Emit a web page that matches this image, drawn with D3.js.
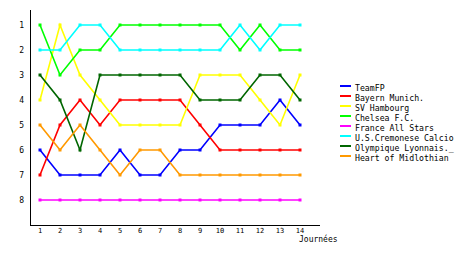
<!DOCTYPE html>
<html lang="fr">
<head>
<meta charset="UTF-8">
<title>Classement par journée</title>
<script src="https://cdn.jsdelivr.net/npm/d3@7"></script>
<style>
  html, body { margin: 0; padding: 0; background: #fff; }
  svg text { font-family: "DejaVu Sans Mono", monospace; fill: #000; }
</style>
</head>
<body>
<div id="chart"></div>
<script>
// journées 1..14 and the ranking of each team
const journees = [1, 2, 3, 4, 5, 6, 7, 8, 9, 10, 11, 12, 13, 14];
const rangs = [1, 2, 3, 4, 5, 6, 7, 8];

const equipes = ["TeamFP", "Bayern Munich.", "SV Hambourg", "Chelsea F.C.",
  "France All Stars", "U.S.Cremonese Calcio", "Olympique Lyonnais._", "Heart of Midlothian"];
const couleurs = ["#0000ff", "#ff0000", "#ffff00", "#00ff00",
  "#ff00ff", "#00ffff", "#006600", "#ff9900"];

const teamFP     = [6, 7, 7, 7, 6, 7, 7, 6, 6, 5, 5, 5, 4, 5];
const bayern     = [7, 5, 4, 5, 4, 4, 4, 4, 5, 6, 6, 6, 6, 6];
const hambourg   = [4, 1, 3, 4, 5, 5, 5, 5, 3, 3, 3, 4, 5, 3];
const chelsea    = [1, 3, 2, 2, 1, 1, 1, 1, 1, 1, 2, 1, 2, 2];
const allStars   = [8, 8, 8, 8, 8, 8, 8, 8, 8, 8, 8, 8, 8, 8];
const cremonese  = [2, 2, 1, 1, 2, 2, 2, 2, 2, 2, 1, 2, 1, 1];
const lyon       = [3, 4, 6, 3, 3, 3, 3, 3, 4, 4, 4, 3, 3, 4];
const midlothian = [5, 6, 5, 6, 7, 6, 6, 7, 7, 7, 7, 7, 7, 7];

const series = [teamFP, bayern, hambourg, chelsea, allStars, cremonese, lyon, midlothian];

const width = 460, height = 255;

const svg = d3.select('#chart').append('svg')
    .attr('width', width)
    .attr('height', height);

// scales: rank 1 on top
const x = d3.scaleLinear().domain([0.5, 15]).range([30, 320]);
const y = d3.scaleLinear().domain([0.4, 9]).range([10, 225]);

// axes, drawn as plain lines like the original
svg.append('line')
    .attr('x1', 30.5).attr('x2', 30.5)
    .attr('y1', y(0.4)).attr('y2', y(9) + 1)
    .attr('stroke', '#000').attr('stroke-width', 1);
svg.append('line')
    .attr('x1', 30).attr('x2', x(15))
    .attr('y1', 225.5).attr('y2', 225.5)
    .attr('stroke', '#000').attr('stroke-width', 1);

svg.append('g').selectAll('text')
    .data(rangs)
    .join('text')
    .attr('x', 24)
    .attr('y', d => y(d) + 3)
    .attr('text-anchor', 'end')
    .attr('font-size', 8)
    .text(d => d);

svg.append('g').selectAll('text')
    .data(journees)
    .join('text')
    .attr('x', d => x(d))
    .attr('y', 233)
    .attr('text-anchor', 'middle')
    .attr('font-size', 7)
    .text(d => d);

svg.append('text')
    .attr('x', 299)
    .attr('y', 242)
    .attr('font-size', 8)
    .text('Journées');

// lines and square markers
const line = d3.line()
    .x((d, i) => x(journees[i]))
    .y(d => y(d));

const plot = svg.append('g');

series.forEach((values, k) => {
    plot.append('path')
        .datum(values)
        .attr('d', line)
        .attr('fill', 'none')
        .attr('stroke', couleurs[k])
        .attr('stroke-width', 1.6);

    plot.append('g').selectAll('rect')
        .data(values)
        .join('rect')
        .attr('x', (d, i) => x(journees[i]) - 1.5)
        .attr('y', d => y(d) - 1.5)
        .attr('width', 3)
        .attr('height', 3)
        .attr('fill', couleurs[k]);
});

// legend
const legend = svg.append('g').selectAll('g')
    .data(equipes)
    .join('g')
    .attr('transform', (d, i) => `translate(340, ${86 + i * 10})`);

legend.append('line')
    .attr('x1', 0).attr('x2', 11)
    .attr('y1', 0).attr('y2', 0)
    .attr('stroke', (d, i) => couleurs[i])
    .attr('stroke-width', 2);

legend.append('text')
    .attr('x', 15)
    .attr('y', 5)
    .attr('font-size', 8.2)
    .text(d => d);
</script>
</body>
</html>
